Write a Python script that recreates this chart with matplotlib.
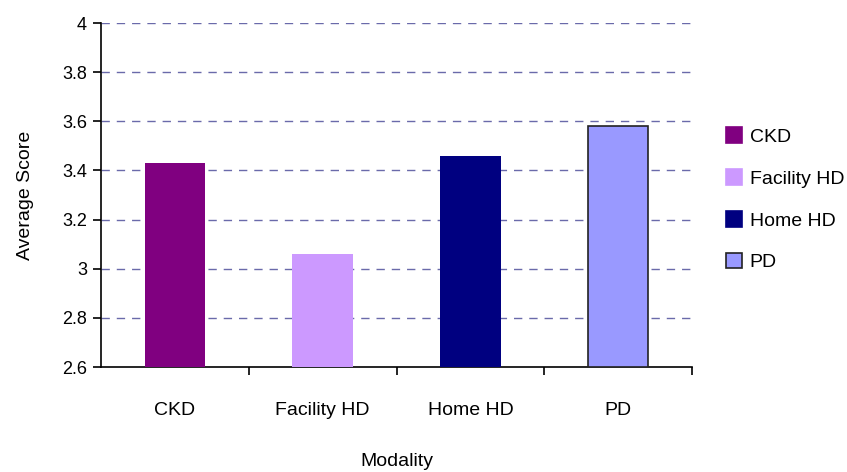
import matplotlib
matplotlib.use("Agg")
import matplotlib.pyplot as plt
from matplotlib.patches import Patch

categories = ["CKD", "Facility HD", "Home HD", "PD"]
scores = [3.43, 3.06, 3.46, 3.58]
colors = ["#800080", "#cc99ff", "#000080", "#9999ff"]
edges = ["none", "none", "none", "#222222"]
yticks = [2.6, 2.8, 3.0, 3.2, 3.4, 3.6, 3.8, 4.0]
ytick_labels = ["2.6", "2.8", "3", "3.2", "3.4", "3.6", "3.8", "4"]

plt.rcParams["font.family"] = ["Liberation Sans", "DejaVu Sans"]

fig = plt.figure(figsize=(8.47, 4.72), dpi=100)
ax = fig.add_axes([101 / 847, 1 - 367 / 472, (692 - 101) / 847, (367 - 23) / 472])

x = list(range(len(categories)))
for xi, v, c, e in zip(x, scores, colors, edges):
    ax.bar(xi, v - 2.6, bottom=2.6, width=0.41, color=c,
           edgecolor=e, linewidth=1.2 if e != "none" else 0, zorder=3)

ax.set_xlim(-0.5, 3.5)
ax.set_ylim(2.6, 4.0)
ax.set_yticks(yticks)
ax.set_yticklabels(ytick_labels, fontsize=13)
ax.set_xticks(x)
ax.set_xticklabels(categories, fontsize=14)
ax.tick_params(axis="x", length=0, pad=25)
ax.set_xticks([0.5, 1.5, 2.5, 3.5], minor=True)
ax.tick_params(axis="x", which="minor", length=6, width=1.2, direction="out")
ax.tick_params(axis="y", length=6, width=1.2, direction="out", pad=4)

for yv in yticks[1:]:
    ax.axhline(yv, color="#6a6aaa", linestyle=(0, (6, 5)), linewidth=1, zorder=1)

for s in ["top", "right"]:
    ax.spines[s].set_visible(False)
ax.spines["left"].set_linewidth(1.2)
ax.spines["bottom"].set_linewidth(1.2)

ax.set_ylabel("Average Score", fontsize=14, labelpad=20)
ax.set_xlabel("Modality", fontsize=14, labelpad=25)

handles = [Patch(facecolor=c, edgecolor=("#222222" if e != "none" else c), linewidth=1.2)
           for c, e in zip(colors, edges)]
fig.legend(handles, categories, loc="upper left", bbox_to_anchor=(708 / 847, 1 - 110 / 472),
           frameon=False, fontsize=14, handlelength=0.85, handleheight=0.85,
           handletextpad=0.4, labelspacing=1.2)

fig.savefig("out.png", dpi=100)
